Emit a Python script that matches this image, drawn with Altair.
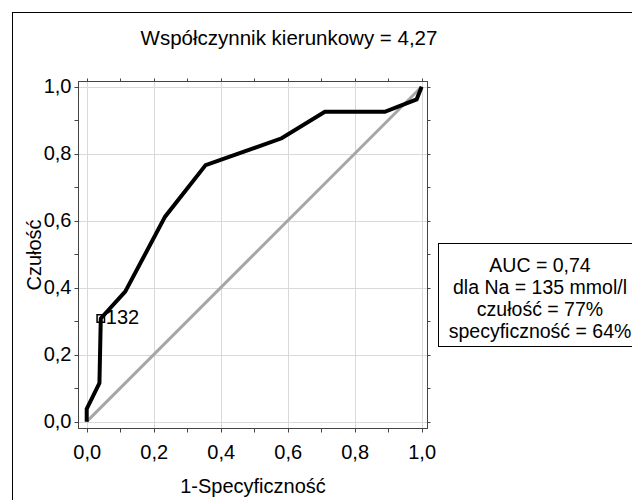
import altair as alt
import pandas as pd

FONT = "Liberation Sans"

# ROC curve (1-specificity, sensitivity)
fpr = [0.0, 0.0, 0.038, 0.042, 0.115, 0.234, 0.355, 0.582, 0.711, 0.890, 0.985, 1.0]
tpr = [0.0, 0.038, 0.115, 0.308, 0.388, 0.612, 0.766, 0.846, 0.925, 0.925, 0.962, 1.0]

# reference diagonal
diag_x = [0.0, 1.0]
diag_y = [0.0, 1.0]

# cut-off marker
marker_x = [0.042]
marker_y = [0.308]
marker_label = ["132"]

tick_values = [0.0, 0.1, 0.2, 0.3, 0.4, 0.5, 0.6, 0.7, 0.8, 0.9, 1.0]

title_text = "Współczynnik kierunkowy = 4,27"
legend_lines = ["AUC = 0,74", "dla Na = 135 mmol/l", "czułość = 77%", "specyficzność = 64%"]
x_title = "1-Specyficzność"
y_title = "Czułość"

roc = pd.DataFrame({"fpr": fpr, "tpr": tpr, "order": list(range(len(fpr)))})
diag = pd.DataFrame({"fpr": diag_x, "tpr": diag_y})
marker = pd.DataFrame({"fpr": marker_x, "tpr": marker_y, "label": marker_label})

xs = alt.Scale(domain=[-0.026, 1.016], nice=False, zero=False)
ys = alt.Scale(domain=[-0.019, 1.017], nice=False, zero=False)

major = "abs(datum.value*5 - round(datum.value*5)) < 0.001"
lab = f"{major} ? replace(format(datum.value, '.1f'), '.', ',') : ''"
grid_op = {"condition": {"test": major, "value": 1}, "value": 0}

common = dict(
    values=tick_values, labelExpr=lab, grid=True, gridColor="#d9d9d9",
    gridOpacity=grid_op, tickSize=4, tickColor="#444", domainColor="#444",
    labelFont=FONT, labelFontSize=20, labelColor="black", labelOverlap=False,
    labelFlush=False, titleFont=FONT, titleFontSize=20, titleFontWeight="normal",
    titleColor="black",
)
x_axis = alt.Axis(title=x_title, labelPadding=10, titlePadding=14, **common)
y_axis = alt.Axis(title=y_title, labelPadding=3, titlePadding=3,
                  titleBaseline="alphabetic", **common)

x_top = alt.Axis(orient="top", values=tick_values, labels=False, grid=False, tickSize=3,
                 tickColor="#444", domainColor="#444", title="")
y_right = alt.Axis(orient="right", values=tick_values, labels=False, grid=False, tickSize=3,
                   tickColor="#444", domainColor="#444", title="")

one = pd.DataFrame({"a": [0]})


def hrule(x1, x2, y):
    return alt.Chart(one).mark_rule(color="black", strokeWidth=1).encode(
        x=alt.value(x1), x2=alt.value(x2), y=alt.value(y))


def vrule(x, y1, y2):
    return alt.Chart(one).mark_rule(color="black", strokeWidth=1).encode(
        x=alt.value(x), y=alt.value(y1), y2=alt.value(y2))


# outer frame (its right and bottom edges lie outside the picture)
frame_top = hrule(-66, 700, -68.5)
frame_left = vrule(-65.5, -69, 700)

diag_line = alt.Chart(diag).mark_line(color="#a6a6a6", strokeWidth=3).encode(
    x=alt.X("fpr:Q", scale=xs, axis=x_top),
    y=alt.Y("tpr:Q", scale=ys, axis=y_right),
)

curve = alt.Chart(roc).mark_line(color="black", strokeWidth=4, strokeJoin="miter").encode(
    x=alt.X("fpr:Q", scale=xs, axis=x_axis),
    y=alt.Y("tpr:Q", scale=ys, axis=y_axis),
    order="order:Q",
)

pt = alt.Chart(marker).mark_point(
    shape="square", filled=False, size=55, strokeWidth=1.5, color="black", opacity=1
).encode(x=alt.X("fpr:Q", scale=xs, axis=None), y=alt.Y("tpr:Q", scale=ys, axis=None))

pt_label = alt.Chart(marker).mark_text(
    align="left", baseline="middle", dx=5, fontSize=20, font=FONT, color="black"
).encode(x=alt.X("fpr:Q", scale=xs, axis=None), y=alt.Y("tpr:Q", scale=ys, axis=None),
         text="label:N")

title = alt.Chart(pd.DataFrame({"t": [title_text]})).mark_text(
    align="center", baseline="alphabetic", fontSize=20.5, font=FONT, color="black"
).encode(x=alt.value(211), y=alt.value(-36), text="t:N")

# legend box (right edge lies outside the picture)
box_top = hrule(360, 700, 162.5)
box_bottom = hrule(360, 700, 265.5)
box_left = vrule(360.5, 162, 266)

legend_text = alt.Chart(pd.DataFrame({"t": ["\n".join(legend_lines)]})).mark_text(
    align="center", baseline="alphabetic", fontSize=19.5, font=FONT, color="black",
    lineBreak="\n", lineHeight=22
).encode(x=alt.value(462), y=alt.value(191), text="t:N")

chart = alt.layer(
    frame_top, frame_left, diag_line, curve, pt, pt_label, title,
    box_top, box_bottom, box_left, legend_text
).resolve_axis(x="independent", y="independent").properties(
    width=349, height=347, autosize="none",
    padding={"left": 70, "top": 73, "right": 205, "bottom": 72},
    background="white",
).configure_view(stroke="#444", strokeWidth=1)

chart.save("out.html", embed_options={"renderer": "svg", "actions": False})
